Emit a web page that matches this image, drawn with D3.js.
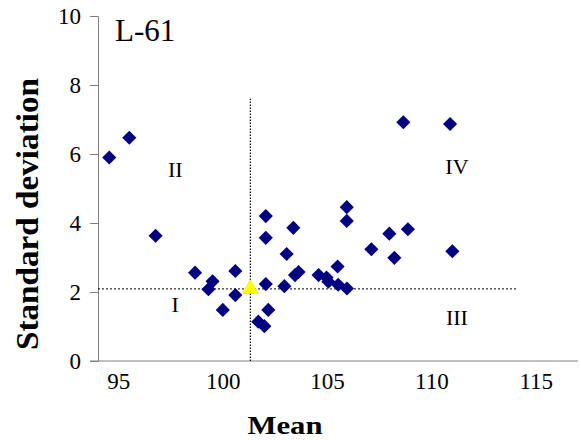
<!DOCTYPE html>
<html>
<head>
<meta charset="utf-8">
<script src="https://cdn.jsdelivr.net/npm/d3@7"></script>
<style>
  body { margin: 0; background: #fff; }
  text { font-family: "Liberation Serif", "Times New Roman", serif; fill: #000; }
</style>
</head>
<body>
<div id="chart"></div>
<script>
// values
var meanValues = [94.54, 95.50, 96.76, 98.65, 99.49, 99.29, 99.98, 100.58, 100.58,
    102.04, 102.04, 102.04, 102.16, 101.68, 101.97, 102.93, 103.04, 103.36, 103.44,
    103.61, 104.57, 104.95, 105.04, 105.48, 105.51, 105.93, 105.92, 105.92, 107.10,
    107.96, 108.85, 108.20, 110.98, 108.63, 110.87];
var sdValues = [5.90, 6.47, 3.63, 2.56, 2.31, 2.08, 1.48, 2.61, 1.91,
    4.20, 3.57, 2.23, 1.48, 1.14, 1.01, 2.17, 3.10, 3.86, 2.49,
    2.58, 2.49, 2.42, 2.30, 2.74, 2.21, 2.10, 4.46, 4.06, 3.24,
    3.69, 3.82, 2.99, 3.18, 6.92, 6.87];
var refMean = 101.3, refSd = 2.09;
var xTicks = [95, 100, 105, 110, 115];
var yTicks = [0, 2, 4, 6, 8, 10];
var quadrants = [
    { label: "I", mean: 97.7, sd: 1.63 },
    { label: "II", mean: 97.7, sd: 5.55 },
    { label: "III", mean: 111.2, sd: 1.28 },
    { label: "IV", mean: 111.2, sd: 5.64 }
];

var points = meanValues.map(function(m, i) { return { mean: m, sd: sdValues[i] }; });

var width = 581, height = 440;
var svg = d3.select("#chart").append("svg")
    .attr("width", width)
    .attr("height", height);

var x = d3.scaleLinear().domain([94, 117]).range([98, 578]);
var y = d3.scaleLinear().domain([0, 10]).range([361, 16]);

// x axis line, no ticks
svg.append("line")
    .attr("x1", x(94) - 8).attr("x2", x(117))
    .attr("y1", y(0)).attr("y2", y(0))
    .attr("stroke", "#808080").attr("stroke-width", 1);

svg.selectAll(".xlab")
    .data(xTicks)
    .enter().append("text")
    .attr("class", "xlab")
    .attr("x", function(d) { return x(d); })
    .attr("y", 389)
    .attr("text-anchor", "middle")
    .attr("font-size", "23px")
    .text(function(d) { return d; });

// y axis
var yAxis = svg.append("g")
    .attr("transform", "translate(" + x(94) + ",0)")
    .call(d3.axisLeft(y).tickValues(yTicks).tickSize(8).tickPadding(9));
yAxis.attr("font-family", null);
yAxis.select(".domain").attr("stroke", "#808080");
yAxis.selectAll(".tick line").attr("stroke", "#808080");
yAxis.selectAll(".tick text")
    .attr("font-size", "23px")
    .attr("fill", "#000");

// reference lines
svg.append("line")
    .attr("x1", x(refMean)).attr("x2", x(refMean))
    .attr("y1", y(0)).attr("y2", y(7.6))
    .attr("stroke", "#000").attr("stroke-width", 1.2)
    .attr("stroke-dasharray", "1.5,1.5");
svg.append("line")
    .attr("x1", x(94)).attr("x2", x(114.03))
    .attr("y1", y(refSd)).attr("y2", y(refSd))
    .attr("stroke", "#000").attr("stroke-width", 1)
    .attr("stroke-dasharray", "2,2");

// points
svg.selectAll(".pt")
    .data(points)
    .enter().append("path")
    .attr("class", "pt")
    .attr("d", d3.symbol().type(d3.symbolSquare).size(100))
    .attr("transform", function(d) {
        return "translate(" + x(d.mean) + "," + y(d.sd) + ") rotate(45)";
    })
    .attr("fill", "#000080");

svg.append("path")
    .attr("d", d3.symbol().type(d3.symbolTriangle).size(110))
    .attr("transform", "translate(" + x(refMean) + "," + y(refSd) + ")")
    .attr("fill", "#ffff00")
    .attr("stroke", "#e0e000")
    .attr("stroke-width", 0.5);

// quadrant labels
svg.selectAll(".quad")
    .data(quadrants)
    .enter().append("text")
    .attr("class", "quad")
    .attr("x", function(d) { return x(d.mean); })
    .attr("y", function(d) { return y(d.sd); })
    .attr("dy", "0.35em")
    .attr("text-anchor", "middle")
    .attr("font-size", "22px")
    .text(function(d) { return d.label; });

// titles
svg.append("text")
    .attr("x", 115)
    .attr("y", 41)
    .attr("font-size", "31px")
    .text("L-61");

svg.append("text")
    .attr("x", 285)
    .attr("y", 434)
    .attr("text-anchor", "middle")
    .attr("font-size", "25px")
    .attr("font-weight", "bold")
    .attr("textLength", 75)
    .attr("lengthAdjust", "spacingAndGlyphs")
    .text("Mean");

svg.append("text")
    .attr("transform", "translate(38,214) rotate(-90)")
    .attr("text-anchor", "middle")
    .attr("font-size", "31px")
    .attr("font-weight", "bold")
    .attr("textLength", 272)
    .attr("lengthAdjust", "spacingAndGlyphs")
    .text("Standard deviation");
</script>
</body>
</html>
